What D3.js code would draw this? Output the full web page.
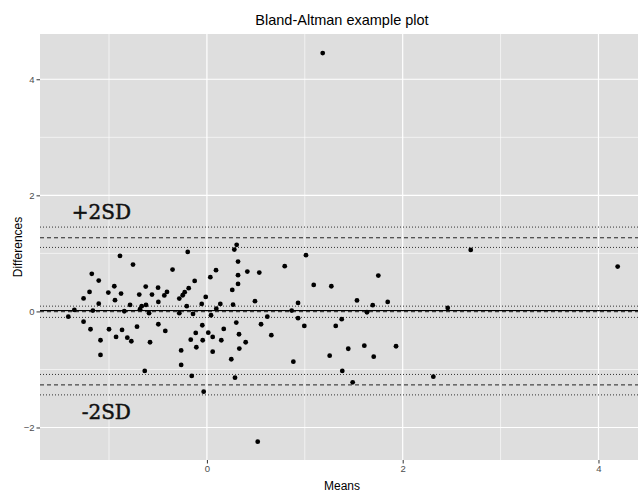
<!DOCTYPE html>
<html>
<head>
<meta charset="utf-8">
<script src="https://cdn.jsdelivr.net/npm/d3@7"></script>
<style>
  body { margin: 0; background: #fff; }
  svg { display: block; font-family: "Liberation Sans", Arial, sans-serif; }
  .axis path.domain { display: none; }
  .axis .tick line { stroke: #333; }
  .axis .tick text { font-size: 9.5px; }
</style>
</head>
<body>
<svg id="chart"></svg>
<script>
// values
const means = [
  -1.416, -1.354, -1.260, -1.260, -1.199, -1.176, -1.189, -1.165, -1.105, -1.105,
  -1.087, -1.087, -1.007, -1.000, -0.946, -0.939, -0.928, -0.888, -0.877, -0.867,
  -0.844, -0.813, -0.785, -0.772, -0.755, -0.714, -0.691, -0.683, -0.666, -0.635,
  -0.625, -0.622, -0.591, -0.581, -0.561, -0.499, -0.496, -0.496, -0.435, -0.425,
  -0.408, -0.351, -0.282, -0.282, -0.263, -0.263, -0.247, -0.227, -0.206, -0.196,
  -0.186, -0.165, -0.155, -0.142, -0.125, -0.114, -0.108, -0.053, -0.047, -0.043,
  -0.033, -0.012, 0.014, 0.035, 0.042, 0.059, 0.059, 0.093, 0.096, 0.137,
  0.147, 0.172, 0.249, 0.259, 0.267, 0.280, 0.287, 0.304, 0.318, 0.318,
  0.318, 0.300, 0.328, 0.331, 0.413, 0.396, 0.491, 0.535, 0.553, 0.617,
  0.658, 0.795, 0.866, 0.883, 0.931, 0.931, 0.995, 1.012, 1.091, 1.254,
  1.271, 1.316, 1.377, 1.383, 1.444, 1.489, 1.533, 1.751, 1.694, 1.635,
  1.847, 1.608, 1.704, 1.932, 2.460, 2.313, 2.695, 4.196, 1.183, 0.519
];
const differences = [
  -0.090, 0.026, 0.224, -0.176, 0.336, 0.647, -0.307, 0.014, 0.531, 0.133,
  -0.497, -0.750, 0.324, -0.307, 0.434, 0.193, -0.440, 0.957, 0.307, -0.319,
  0.003, -0.452, 0.112, -0.514, 0.807, -0.262, 0.290, 0.038, 0.090, -1.026,
  0.428, 0.112, -0.031, -0.531, 0.290, 0.410, 0.164, -0.221, 0.276, -0.336,
  0.336, 0.721, 0.221, -0.031, -0.672, -0.922, 0.279, 0.331, 0.090, 1.026,
  0.400, -0.486, -1.112, -0.043, 0.526, -0.371, -0.617, 0.129, -0.238, -0.497,
  -1.383, 0.250, -0.366, 0.590, -0.066, -0.440, -0.693, 0.710, 0.048, 0.129,
  -0.497, -0.302, -0.824, 0.371, 0.117, 1.066, -1.141, 1.147, 0.859, 0.624,
  0.474, -0.193, -0.393, -0.641, 0.686, -0.531, 0.176, 0.669, -0.221, -0.090,
  -0.410, 0.779, 0.014, -0.866, 0.147, -0.117, -0.250, 0.969, 0.457, -0.762,
  0.434, -0.250, -0.133, -1.026, -0.643, -1.221, 0.190, 0.617, 0.107, -0.014,
  0.164, -0.590, -0.779, -0.600, 0.060, -1.124, 1.060, 0.772, 4.452, -2.245
];

// horizontal reference lines
const zeroLine = [0.015];
const limitLines = [1.269, -0.005, -1.266];
const ciLines = [1.453, 1.103, 0.091, -0.103, -1.086, -1.438];

const xTicks = [0, 2, 4];
const xMinorTicks = [-1, 1, 3];
const yTicks = [-2, 0, 2, 4];
const yMinorTicks = [-1, 1, 3];

const sdLabels = ['+2SD', '-2SD'];

class BlandAltman {

  constructor(_config, _means, _diffs) {
    this.config = {
      parentElement: _config.parentElement,
      containerWidth: _config.containerWidth || 638,
      containerHeight: _config.containerHeight || 492,
      margin: _config.margin || {top: 34, right: -6, bottom: 32, left: 40}
    }
    this.data = _means.map((m, i) => ({mean: m, diff: _diffs[i]}));
    this.initVis();
  }

  initVis() {
    let vis = this;

    vis.width = vis.config.containerWidth - vis.config.margin.left - vis.config.margin.right;
    vis.height = vis.config.containerHeight - vis.config.margin.top - vis.config.margin.bottom;

    vis.xScale = d3.scaleLinear()
        .domain([-1.705, 4.465])
        .range([0, vis.width]);

    vis.yScale = d3.scaleLinear()
        .domain([-2.56, 4.78])
        .range([vis.height, 0]);

    vis.xAxis = d3.axisBottom(vis.xScale)
        .tickValues(xTicks)
        .tickFormat(d3.format('d'))
        .tickSize(3.5)
        .tickPadding(2);

    vis.yAxis = d3.axisLeft(vis.yScale)
        .tickValues(yTicks)
        .tickFormat(d3.format('d'))
        .tickSize(3.5)
        .tickPadding(2);

    vis.svg = d3.select(vis.config.parentElement)
        .attr('width', vis.config.containerWidth)
        .attr('height', vis.config.containerHeight);

    vis.chart = vis.svg.append('g')
        .attr('transform', `translate(${vis.config.margin.left},${vis.config.margin.top})`);

    // grey panel
    vis.chart.append('rect')
        .attr('width', vis.width)
        .attr('height', vis.height)
        .attr('fill', '#dedede');

    vis.gridG = vis.chart.append('g').attr('class', 'grid');
    vis.linesG = vis.chart.append('g').attr('class', 'ref-lines');
    vis.pointsG = vis.chart.append('g').attr('class', 'points');

    vis.xAxisG = vis.chart.append('g')
        .attr('class', 'axis x-axis')
        .attr('transform', `translate(0,${vis.height})`);

    vis.yAxisG = vis.chart.append('g')
        .attr('class', 'axis y-axis');

    // titles
    vis.svg.append('text')
        .attr('x', vis.config.margin.left + vis.width / 2)
        .attr('y', 25)
        .attr('text-anchor', 'middle')
        .attr('font-size', '14.5px')
        .attr('fill', '#000')
        .text('Bland-Altman example plot');

    vis.svg.append('text')
        .attr('x', vis.config.margin.left + vis.width / 2)
        .attr('y', 490)
        .attr('text-anchor', 'middle')
        .attr('font-size', '12px')
        .text('Means');

    vis.svg.append('text')
        .attr('transform', `translate(22,${vis.config.margin.top + vis.height / 2}) rotate(-90)`)
        .attr('text-anchor', 'middle')
        .attr('font-size', '12px')
        .text('Differences');

    vis.updateVis();
  }

  updateVis() {
    let vis = this;
    vis.xValue = d => d.mean;
    vis.yValue = d => d.diff;
    vis.renderVis();
  }

  renderVis() {
    let vis = this;

    // minor + major grid
    vis.gridG.selectAll('.x-minor')
        .data(xMinorTicks)
        .join('line')
        .attr('class', 'x-minor')
        .attr('x1', d => vis.xScale(d)).attr('x2', d => vis.xScale(d))
        .attr('y1', 0).attr('y2', vis.height)
        .attr('stroke', '#fff').attr('stroke-width', 0.6);

    vis.gridG.selectAll('.y-minor')
        .data(yMinorTicks)
        .join('line')
        .attr('class', 'y-minor')
        .attr('y1', d => vis.yScale(d)).attr('y2', d => vis.yScale(d))
        .attr('x1', 0).attr('x2', vis.width)
        .attr('stroke', '#fff').attr('stroke-width', 0.6);

    vis.gridG.selectAll('.x-major')
        .data(xTicks)
        .join('line')
        .attr('class', 'x-major')
        .attr('x1', d => vis.xScale(d)).attr('x2', d => vis.xScale(d))
        .attr('y1', 0).attr('y2', vis.height)
        .attr('stroke', '#fff').attr('stroke-width', 1.2);

    vis.gridG.selectAll('.y-major')
        .data(yTicks)
        .join('line')
        .attr('class', 'y-major')
        .attr('y1', d => vis.yScale(d)).attr('y2', d => vis.yScale(d))
        .attr('x1', 0).attr('x2', vis.width)
        .attr('stroke', '#fff').attr('stroke-width', 1.2);

    // reference lines
    const hline = (cls, values, color, width, dash) => {
      vis.linesG.selectAll('.' + cls)
          .data(values)
          .join('line')
          .attr('class', cls)
          .attr('x1', 0).attr('x2', vis.width)
          .attr('y1', d => vis.yScale(d)).attr('y2', d => vis.yScale(d))
          .attr('stroke', color)
          .attr('stroke-width', width)
          .attr('stroke-dasharray', dash);
    };
    hline('ci', ciLines, '#333', 1, '1,2');
    hline('limit', limitLines, '#222', 1, '4,3');
    hline('zero', zeroLine, '#000', 1.3, null);

    // points
    vis.pointsG.selectAll('.point')
        .data(vis.data)
        .join('circle')
        .attr('class', 'point')
        .attr('cx', d => vis.xScale(vis.xValue(d)))
        .attr('cy', d => vis.yScale(vis.yValue(d)))
        .attr('r', 2.4)
        .attr('fill', '#000');

    // +2SD / -2SD annotations
    vis.chart.selectAll('.sd-label')
        .data(sdLabels)
        .join('text')
        .attr('class', 'sd-label')
        .attr('x', (d, i) => vis.xScale(i === 0 ? -1.381 : -1.279))
        .attr('y', (d, i) => vis.yScale(i === 0 ? 1.595 : -1.853))
        .attr('font-family', '"DejaVu Serif", serif')
        .attr('font-size', '20px')
        .attr('fill', '#111')
        .attr('stroke', '#111')
        .attr('stroke-width', 0.5)
        .text(d => d);

    vis.xAxisG.call(vis.xAxis);
    vis.yAxisG.call(vis.yAxis);
    vis.svg.selectAll('.axis .tick text').attr('fill', '#4d4d4d');
  }
}

new BlandAltman({parentElement: '#chart'}, means, differences);
</script>
</body>
</html>
